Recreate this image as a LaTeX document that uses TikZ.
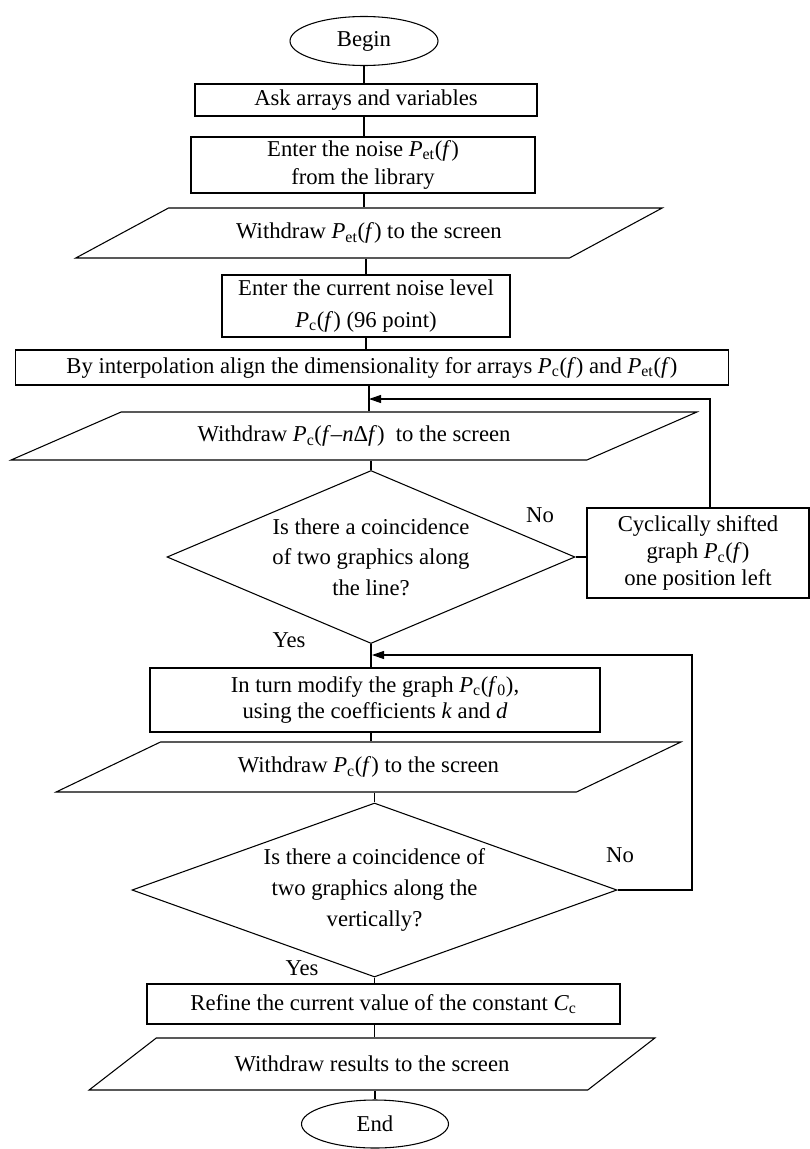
\documentclass[tikz,border=0pt]{standalone}
\usepackage{fontspec}
\setmainfont{Liberation Serif}
\usetikzlibrary{shapes.geometric, arrows.meta}

\tikzset{
    every node/.style={font=\fontsize{17pt}{21pt}\selectfont},
    term/.style={draw, ellipse, inner sep=0pt},
    proc/.style={draw, rectangle, align=center, inner sep=1pt},
    io/.style={draw, trapezium, trapezium stretches=true, align=center, inner sep=0pt},
    cond/.style={draw, diamond, align=center, inner sep=0pt,
        font=\fontsize{17pt}{23pt}\selectfont},
    lbl/.style={inner sep=0pt},
    flow/.style={line width=0.8pt},
    back/.style={flow, -{Triangle[length=9pt, width=6pt]}},
}

\newcommand{\Pc}{\textit{P}\textsubscript{c}}
\newcommand{\Pet}{\textit{P}\textsubscript{et}}

\begin{document}
\begin{tikzpicture}[x=0.75pt, y=-0.75pt, line width=0.8pt]
    \useasboundingbox (0,0) rectangle (810,1149);

    \node[term, minimum width=111pt, minimum height=36.75pt] (begin) at (364,41) {Begin};
    \node[proc, minimum width=256.5pt, minimum height=24pt] (ask) at (366,100)
        {Ask arrays and variables};
    \node[proc, minimum width=258pt, minimum height=42pt] (noise) at (363,165)
        {Enter the noise \Pet(\textit{f})\\from the library};
    \node[io, trapezium left angle=18.7, trapezium right angle=161.3,
        minimum width=441.75pt, minimum height=37.5pt] (outet) at (369,233)
        {Withdraw \Pet(\textit{f}) to the screen};
    \node[proc, minimum width=216pt, minimum height=46.5pt,
        font=\fontsize{17pt}{24pt}\selectfont] (level) at (366,306)
        {Enter the current noise level\\\Pc(\textit{f}) (96 point)};
    \node[proc, minimum width=534.75pt, minimum height=26.25pt] (interp) at (372,367.5)
        {By interpolation align the dimensionality for arrays \Pc(\textit{f}) and \Pet(\textit{f})};
    \coordinate (j1) at (369,399);
    \node[io, trapezium left angle=15.7, trapezium right angle=164.3,
        minimum width=516pt, minimum height=36pt] (outshift) at (354,436)
        {Withdraw \Pc(\textit{f}–\textit{n}Δ\textit{f})\ \ to the screen};
    \node[cond, shape aspect=2.36, minimum width=306pt, minimum height=129.75pt]
        (cond1) at (371,557)
        {Is there a coincidence\\of two graphics along\\the line?};
    \node[proc, minimum width=166.5pt, minimum height=67.5pt,
        font=\fontsize{17pt}{20.5pt}\selectfont] (shift) at (698,553)
        {Cyclically shifted\\graph \Pc(\textit{f})\\one position left};
    \node[lbl] (no1) at (540,515) {No};
    \node[lbl] (yes1) at (289,640) {Yes};

    \coordinate (j2) at (372,655);
    \coordinate (r2) at (692,655);
    \node[proc, minimum width=337.5pt, minimum height=48pt,
        font=\fontsize{17pt}{20pt}\selectfont] (modify) at (375,700)
        {In turn modify the graph \Pc(\textit{f}\textsubscript{0}),\\using the coefficients \textit{k} and \textit{d}};
    \node[io, trapezium left angle=17.6, trapezium right angle=162.4,
        minimum width=470.25pt, minimum height=37.5pt] (outpc) at (368.5,767)
        {Withdraw \Pc(\textit{f}) to the screen};
    \node[cond, shape aspect=2.79, minimum width=363.75pt, minimum height=130.5pt]
        (cond2) at (374.5,890)
        {Is there a coincidence of\\two graphics along the\\vertically?};
    \node[lbl] (no2) at (620,855) {No};
    \node[lbl] (yes2) at (302,968) {Yes};
    \node[proc, minimum width=354.75pt, minimum height=30pt] (refine) at (383.5,1004)
        {Refine the current value of the constant \textit{C}\textsubscript{c}};
    \node[io, trapezium left angle=20.6, trapezium right angle=159.4,
        minimum width=425.25pt, minimum height=39pt] (outres) at (372,1064)
        {Withdraw results to the screen};
    \node[term, minimum width=110.25pt, minimum height=36pt] (end) at (375,1124) {End};

    % main line
    \draw[flow] (begin.south) -- (begin.south |- ask.north);
    \draw[flow] (begin.south |- ask.south) -- (begin.south |- noise.north);
    \draw[flow] (begin.south |- noise.south) -- (begin.south |- outet.north);
    \draw[flow] (level.north |- outet.south) -- (level.north);
    \draw[flow] (level.south) -- (level.south |- interp.north);
    \draw[flow] (interp.south -| j1) -- (j1 |- outshift.north);
    \draw[flow] (cond1.north |- outshift.south) -- (cond1.north);
    \draw[flow] (cond1.south) -- (cond1.south |- modify.north);
    \draw[flow] (cond1.south |- modify.south) -- (cond1.south |- outpc.north);
    \draw[flow] (cond2.north |- outpc.south) -- (cond2.north);
    \draw[flow] (cond2.south) -- (cond2.south |- refine.north);
    \draw[flow] (cond2.south |- refine.south) -- (cond2.south |- outres.north);
    \draw[flow] (end.north |- outres.south) -- (end.north);

    % loops back
    \draw[flow] (cond1.east) -- (cond1.east -| shift.west);
    \draw[back] ([xshift=9pt]shift.north) |- (j1);
    \draw[back] (cond2.east) -| (r2) -- (j2);
\end{tikzpicture}
\end{document}
